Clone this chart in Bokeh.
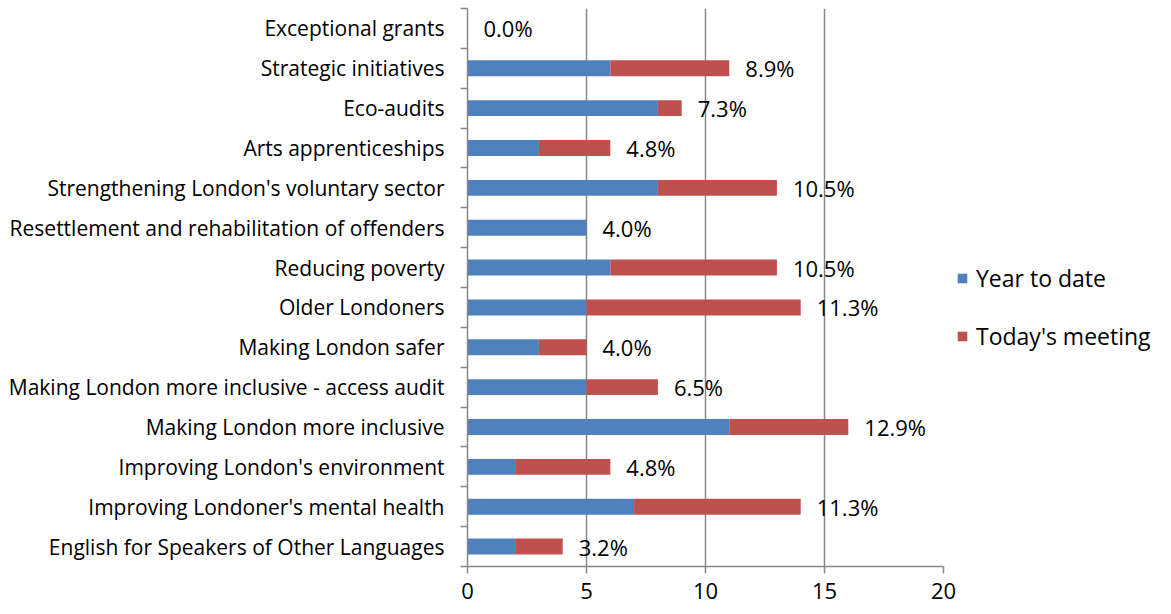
from bokeh.plotting import figure
from bokeh.models import (ColumnDataSource, Range1d, FixedTicker, CustomJSTickFormatter,
                          Legend, LegendItem)
from bokeh.core.properties import value
from bokeh.embed import file_html
from bokeh.resources import INLINE

# Data (top to bottom as in the chart)
categories = [
    "Exceptional grants",
    "Strategic initiatives",
    "Eco-audits",
    "Arts apprenticeships",
    "Strengthening London's voluntary sector",
    "Resettlement and rehabilitation of offenders",
    "Reducing poverty",
    "Older Londoners",
    "Making London safer",
    "Making London more inclusive - access audit",
    "Making London more inclusive",
    "Improving London's environment",
    "Improving Londoner's mental health",
    "English for Speakers of Other Languages",
]
year_to_date = [0, 6, 8, 3, 8, 5, 6, 5, 3, 5, 11, 2, 7, 2]
todays_meeting = [0, 5, 1, 3, 5, 0, 7, 9, 2, 3, 5, 4, 7, 2]
pct_labels = ["0.0%", "8.9%", "7.3%", "4.8%", "10.5%", "4.0%", "10.5%",
              "11.3%", "4.0%", "6.5%", "12.9%", "4.8%", "11.3%", "3.2%"]
x_ticks = [0, 5, 10, 15, 20]

BLUE = "#4F81BD"
RED = "#C0504D"
GRAY = "#878787"
FONT = "Open Sans"

n = len(categories)
ypos = [n - 1 - i + 0.5 for i in range(n)]
totals = [a + b for a, b in zip(year_to_date, todays_meeting)]
src = ColumnDataSource(dict(y=ypos, ytd=year_to_date, today=todays_meeting,
                            total=totals, lab=pct_labels))

p = figure(frame_width=476, frame_height=558, output_backend="svg", toolbar_location=None,
           x_range=Range1d(0, 20), y_range=Range1d(0, n),
           min_border_left=467, min_border_right=215, min_border_top=8,
           min_border_bottom=38)
p.background_fill_color = "white"
p.border_fill_color = "white"
p.outline_line_color = None

r1 = p.hbar(y="y", left=0, right="ytd", height=0.4, source=src,
            fill_color=BLUE, line_color=None)
r2 = p.hbar(y="y", left="ytd", right="total", height=0.4, source=src,
            fill_color=RED, line_color=None)

p.text(x="total", y="y", text="lab", source=src, x_offset=16,
       text_baseline="middle", text_align="left",
       text_font=value(FONT), text_font_size="22px", text_color="black")

# x axis
p.xaxis.ticker = FixedTicker(ticks=x_ticks)
p.xaxis.major_tick_out = 7
p.xaxis.major_tick_in = 0
p.xaxis.minor_tick_out = 0
p.xaxis.axis_line_color = GRAY
p.xaxis.axis_line_width = 1.5
p.xaxis.major_tick_line_color = GRAY
p.xaxis.major_tick_line_width = 1.5
p.xaxis.major_label_text_font = FONT
p.xaxis.major_label_text_font_size = "22px"
p.xaxis.major_label_text_color = "black"
p.xaxis.major_label_standoff = 9

# y axis: labels at centers, ticks at category boundaries
cats_bottom_up = list(reversed(categories))
p.yaxis.ticker = FixedTicker(ticks=ypos, minor_ticks=list(range(n + 1)))
p.yaxis.formatter = CustomJSTickFormatter(args=dict(labels=cats_bottom_up),
                                          code="return labels[Math.floor(tick)] || '';")
p.yaxis.major_tick_out = 0
p.yaxis.major_tick_in = 0
p.yaxis.minor_tick_out = 7
p.yaxis.minor_tick_in = 0
p.yaxis.minor_tick_line_color = GRAY
p.yaxis.minor_tick_line_width = 1.5
p.yaxis.axis_line_color = GRAY
p.yaxis.axis_line_width = 1.5
p.yaxis.major_label_text_font = FONT
p.yaxis.major_label_text_font_size = "21px"
p.yaxis.major_label_text_color = "black"
p.yaxis.major_label_standoff = 16

p.xgrid.ticker = FixedTicker(ticks=x_ticks)
p.xgrid.grid_line_color = GRAY
p.xgrid.grid_line_width = 1.5
p.ygrid.grid_line_color = None

legend = Legend(items=[LegendItem(label="Year to date", renderers=[r1]),
                       LegendItem(label="Today's meeting", renderers=[r2])],
                location=(13, 214), orientation="vertical",
                glyph_width=12, glyph_height=12, label_standoff=8,
                label_height=30, spacing=26, padding=0, margin=0,
                border_line_color=None, background_fill_alpha=0,
                label_text_font=FONT, label_text_font_size="23px",
                label_text_color="black")
p.add_layout(legend, "right")

open("out.html", "w").write(file_html(p, INLINE))
